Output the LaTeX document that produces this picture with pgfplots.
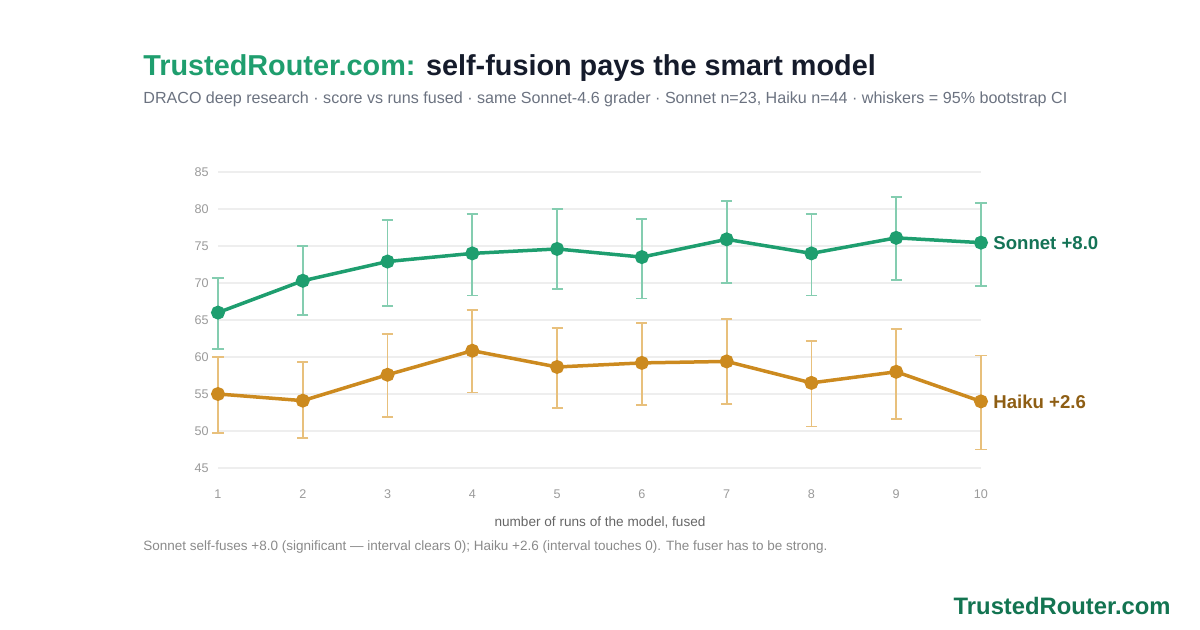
\documentclass[border=0pt]{standalone}
\usepackage{fontspec}
\setmainfont{Liberation Sans}
\usepackage{pgfplots}
\usepackage{pgfplotstable}
\pgfplotsset{compat=1.18}
\definecolor{sonnet}{HTML}{1E9E6F}
\definecolor{sonnetw}{HTML}{84CDB0}
\definecolor{haiku}{HTML}{CC8A1F}
\definecolor{haikuw}{HTML}{E8C07C}
\definecolor{sonlab}{HTML}{147356}
\definecolor{hailab}{HTML}{8E5E14}
\definecolor{titlegreen}{HTML}{1F9E6E}
\definecolor{titledark}{HTML}{151B2B}
\definecolor{subgray}{HTML}{6B7280}
\definecolor{tickgray}{HTML}{9A9A9A}
\definecolor{labgray}{HTML}{666666}
\definecolor{footgray}{HTML}{8A8A8A}
\definecolor{gridgray}{HTML}{EEEEEE}
\definecolor{brand}{HTML}{137451}

\pgfplotstableread{
x y ep em
1 66.0 4.7 4.9
2 70.3 4.75 4.6
3 72.9 5.6 6.0
4 74.0 5.3 5.7
5 74.6 5.4 5.4
6 73.5 5.1 5.6
7 75.9 5.2 5.9
8 74.0 5.3 5.7
9 76.1 5.5 5.7
10 75.45 5.35 5.9
}\sonnettab

\pgfplotstableread{
x y ep em
1 55.0 5.0 5.3
2 54.1 5.2 5.0
3 57.6 5.5 5.7
4 60.85 5.5 5.65
5 58.65 5.25 5.5
6 59.2 5.4 5.7
7 59.4 5.7 5.8
8 56.5 5.7 5.9
9 58.0 5.8 6.4
10 54.0 6.2 6.5
}\haikutab

\begin{document}
\begin{tikzpicture}
\useasboundingbox (0,0) rectangle (600pt,315pt);
\begin{axis}[
  at={(109pt,81pt)}, anchor=south west,
  width=381.5pt, height=148pt, scale only axis,
  xmin=1, xmax=10, ymin=45, ymax=85,
  xtick={1,...,10}, ytick={45,50,...,85},
  axis line style={draw=none},
  major tick length=0pt,
  ymajorgrids, grid style={gridgray, line width=0.6pt},
  tick label style={font=\fontsize{6.3}{7}\selectfont, text=tickgray},
  /pgf/number format/assume math mode=true,
  yticklabel style={anchor=east, inner sep=0pt, xshift=-4.5pt},
  xticklabel style={anchor=center, inner sep=0pt, yshift=-13pt},
  clip=false,
]
\addplot[only marks, mark=none, forget plot,
  error bars/.cd, y dir=both, y explicit,
  error bar style={sonnetw, line width=0.9pt},
  error mark options={sonnetw, line width=0.9pt, mark size=2.8pt, rotate=90}]
  table[x=x, y=y, y error plus=ep, y error minus=em] {\sonnettab};
\addplot[only marks, mark=none, forget plot,
  error bars/.cd, y dir=both, y explicit,
  error bar style={haikuw, line width=0.9pt},
  error mark options={haikuw, line width=0.9pt, mark size=2.8pt, rotate=90}]
  table[x=x, y=y, y error plus=ep, y error minus=em] {\haikutab};
\addplot[sonnet, line width=1.75pt, mark=*, mark size=2.6pt, mark options={fill=sonnet, draw=none}]
  table[x=x, y=y] {\sonnettab};
\addplot[haiku, line width=1.75pt, mark=*, mark size=2.6pt, mark options={fill=haiku, draw=none}]
  table[x=x, y=y] {\haikutab};
\node[anchor=west, inner sep=0pt, xshift=6pt, text=sonlab, font=\fontsize{9.3}{11}\selectfont\bfseries] at (axis cs:10,75.45) {Sonnet +8.0};
\node[anchor=west, inner sep=0pt, xshift=6pt, text=hailab, font=\fontsize{9.3}{11}\selectfont\bfseries] at (axis cs:10,54.0) {Haiku +2.6};
\end{axis}
\node[anchor=base west, inner sep=0pt] at (71.5pt,277pt) {\fontsize{14.4}{16}\selectfont\bfseries\textcolor{titlegreen}{TrustedRouter.com:} \textcolor{titledark}{self-fusion pays the smart model}};
\node[anchor=base west, inner sep=0pt, text=subgray] at (71.5pt,263pt) {\fontsize{8.05}{9}\selectfont DRACO deep research · score vs runs fused · same Sonnet-4.6 grader · Sonnet n=23, Haiku n=44 · whiskers = 95\% bootstrap CI};
\node[anchor=center, inner sep=0pt, text=labgray] at (300pt,54pt) {\fontsize{6.8}{8}\selectfont number of runs of the model, fused};
\node[anchor=base west, inner sep=0pt, text=footgray] at (71.5pt,39.5pt) {\fontsize{6.75}{8}\selectfont Sonnet self-fuses +8.0 (significant — interval clears 0); Haiku +2.6 (interval touches 0). The fuser has to be strong.};
\node[anchor=base east, inner sep=0pt, text=brand] at (585.5pt,7.5pt) {\fontsize{11.9}{13}\selectfont\bfseries TrustedRouter.com};
\end{tikzpicture}
\end{document}
